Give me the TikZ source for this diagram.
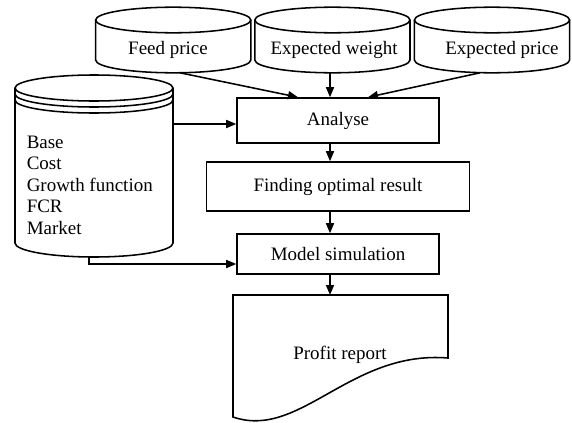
\documentclass[tikz,border=0pt]{standalone}
\usepackage{fontspec}
\setmainfont{Liberation Serif}
\usetikzlibrary{arrows.meta}

\newcommand{\drum}[4]{%
  \draw (#1-#4,#2) -- (#1-#4,#3) arc[start angle=180, end angle=360, x radius=#4, y radius=0.32] -- (#1+#4,#2);
  \draw (#1,#2) ellipse [x radius=#4, y radius=0.32];
}

\begin{document}
\begin{tikzpicture}[line width=1.1pt, >={Triangle[length=2.5mm,width=2mm]},
    every node/.style={font=\fontsize{13.5}{15.3}\selectfont},
    box/.style={draw, minimum width=5.05cm, minimum height=1.125cm}]
  \useasboundingbox (0,0) rectangle (14.3,10.55);
  \drum{4.33}{10.05}{9.05}{1.94}
  \drum{8.31}{10.05}{9.05}{1.94}
  \drum{12.3}{10.05}{9.05}{1.94}
  \draw (0.375,8.35) -- (0.375,4.475) arc[start angle=180, end angle=360, x radius=1.975, y radius=0.35] -- (4.325,8.35);
  \draw (2.35,8.35) ellipse [x radius=1.975, y radius=0.325];
  \draw (0.375,8.2) arc[start angle=180, end angle=360, x radius=1.975, y radius=0.325];
  \draw (0.375,8.05) arc[start angle=180, end angle=360, x radius=1.975, y radius=0.325];
  \draw (5.825,0.125) -- (5.825,3.175) -- (11.2,3.175) -- (11.2,1.6)
    .. controls (8.75,1.8) and (7.5,-0.45) .. (5.825,0.125) -- cycle;

  \node (feed) at (4.2,9.3) {Feed price};
  \node (weight) at (8.35,9.3) {Expected weight};
  \node (price) at (12.55,9.3) {Expected price};
  \node[align=left, anchor=west, inner sep=0pt] (store) at (0.65,5.925) {Base\\Cost\\Growth function\\FCR\\Market};
  \node[box] (analyse) at (8.45,7.5375) {Analyse};
  \node[box, minimum width=6.575cm, minimum height=1.225cm] (finding) at (8.45,5.8875) {Finding optimal result};
  \node[box, minimum height=1cm] (model) at (8.45,4.2) {Model simulation};
  \node (report) at (8.5,1.675) {Profit report};

  \coordinate (feedend) at (4.5,8.73);
  \coordinate (weightend) at (8.25,8.75);
  \coordinate (priceend) at (12,8.73);
  \coordinate (storeside) at (4.325,7.45);
  \coordinate (storebase) at (2.225,4.13);
  \coordinate (reporttop) at (8.25,3.175);

  \draw[->] (feedend) -- ([xshift=-1cm]analyse.north);
  \draw[->] (weightend) -- (weightend |- analyse.north);
  \draw[->] (priceend) -- ([xshift=0.75cm]analyse.north);
  \draw[->] (storeside) -- (storeside -| analyse.west);
  \draw[->] ([xshift=-0.2cm]analyse.south) -- ([xshift=-0.2cm]finding.north);
  \draw[->] ([xshift=-0.2cm]finding.south) -- ([xshift=-0.2cm]model.north);
  \draw[->] ([xshift=-0.2cm]model.south) -- (reporttop);
  \draw[->] (storebase) |- ([yshift=-0.25cm]model.west);
\end{tikzpicture}
\end{document}
